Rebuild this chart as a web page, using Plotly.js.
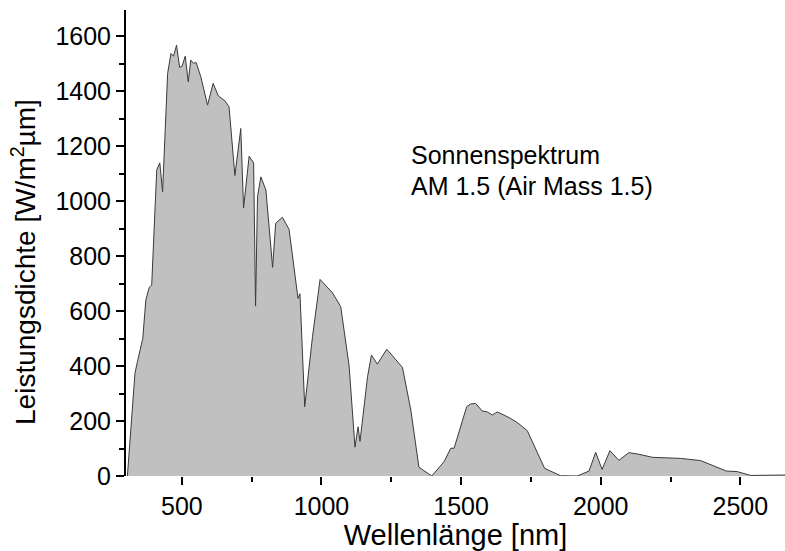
<!DOCTYPE html>
<html>
<head>
<meta charset="utf-8">
<script src="https://cdn.plot.ly/plotly-3.0.1.min.js"></script>
<style>html,body{margin:0;padding:0;background:#fff;}#chart{width:785px;height:551px;}</style>
</head>
<body>
<div id="chart"></div>
<script>
const wavelength = [305, 332, 341, 351, 360, 371, 383, 392, 410, 421, 431, 449, 461, 470, 481, 492, 501, 512, 523, 532, 542, 551, 568, 592, 612, 631, 654, 669, 690, 711, 721, 741, 757, 764, 771, 783, 801, 825, 836, 860, 884, 916, 923, 940, 968, 995, 1039, 1069, 1099, 1120, 1131, 1138, 1165, 1179, 1200, 1234, 1290, 1320, 1349, 1395, 1439, 1463, 1475, 1520, 1534, 1552, 1576, 1592, 1612, 1630, 1671, 1702, 1737, 1799, 1856, 1916, 1958, 1982, 2005, 2033, 2065, 2101, 2137, 2185, 2286, 2358, 2405, 2450, 2489, 2537, 2700];
const power = [0, 373, 416, 464, 500, 640, 686, 694, 1113, 1139, 1034, 1464, 1537, 1527, 1567, 1486, 1491, 1527, 1434, 1513, 1501, 1504, 1452, 1349, 1428, 1382, 1365, 1343, 1093, 1264, 975, 1163, 1139, 618, 1016, 1088, 1040, 759, 919, 941, 897, 646, 663, 252, 507, 715, 667, 616, 400, 105, 179, 126, 361, 440, 407, 461, 395, 240, 32, 0, 52, 101, 101, 252, 262, 264, 236, 234, 222, 233, 213, 194, 165, 28, 1, 0, 18, 86, 24, 92, 57, 85, 79, 68, 64, 56, 36, 18, 16, 2, 4];
const xTickVals = [500, 1000, 1500, 2000, 2500];
const yTickVals = [0, 200, 400, 600, 800, 1000, 1200, 1400, 1600];
const labelLines = ["Sonnenspektrum", "AM 1.5 (Air Mass 1.5)"];
const xTitle = "Wellenlänge [nm]";
const yTitle = "Leistungsdichte [W/m<sup>2</sup>µm]";

const font = "Liberation Sans, Arial, sans-serif";
const trace = {
  x: wavelength, y: power, type: 'scatter', mode: 'lines',
  fill: 'tozeroy', fillcolor: '#c0c0c0',
  line: {color: '#3a3a3a', width: 1}, hoverinfo: 'skip'
};
const layout = {
  width: 785, height: 551,
  margin: {l: 126, r: 0, t: 10, b: 75},
  paper_bgcolor: '#fff', plot_bgcolor: '#fff',
  showlegend: false,
  font: {family: font, color: '#000', size: 24},
  xaxis: {
    range: [300, 2660], showgrid: false, zeroline: false, showline: false,
    tickvals: xTickVals, ticks: 'outside', ticklen: 8, tickwidth: 2, tickcolor: '#000',
    minor: {tickvals: [750, 1250, 1750, 2250], ticks: 'outside', ticklen: 5, tickwidth: 2, tickcolor: '#000'},
    tickfont: {size: 25, family: font},
    title: {text: xTitle, font: {size: 29, family: font}, standoff: 0}
  },
  yaxis: {
    range: [0, 1695], showgrid: false, zeroline: false, showline: true, linewidth: 2, linecolor: '#000',
    tickvals: yTickVals, ticks: 'outside', ticklen: 8, tickwidth: 2, tickcolor: '#000',
    minor: {tickvals: [100, 300, 500, 700, 900, 1100, 1300, 1500], ticks: 'outside', ticklen: 5, tickwidth: 2, tickcolor: '#000'},
    tickfont: {size: 25, family: font}
  },
  annotations: [
    {xref: 'paper', yref: 'paper', x: -0.155, y: 0.459, xanchor: 'center', yanchor: 'middle', textangle: -90, showarrow: false, text: yTitle, font: {size: 28, family: font}},
    {xref: 'paper', yref: 'paper', x: 0.43, y: 0.689, xanchor: 'left', yanchor: 'middle', showarrow: false, text: labelLines[0], font: {size: 25, family: font}},
    {xref: 'paper', yref: 'paper', x: 0.43, y: 0.622, xanchor: 'left', yanchor: 'middle', showarrow: false, text: labelLines[1], font: {size: 25, family: font}}
  ]
};
Plotly.newPlot('chart', [trace], layout, {displayModeBar: false, staticPlot: true});
</script>
</body>
</html>
